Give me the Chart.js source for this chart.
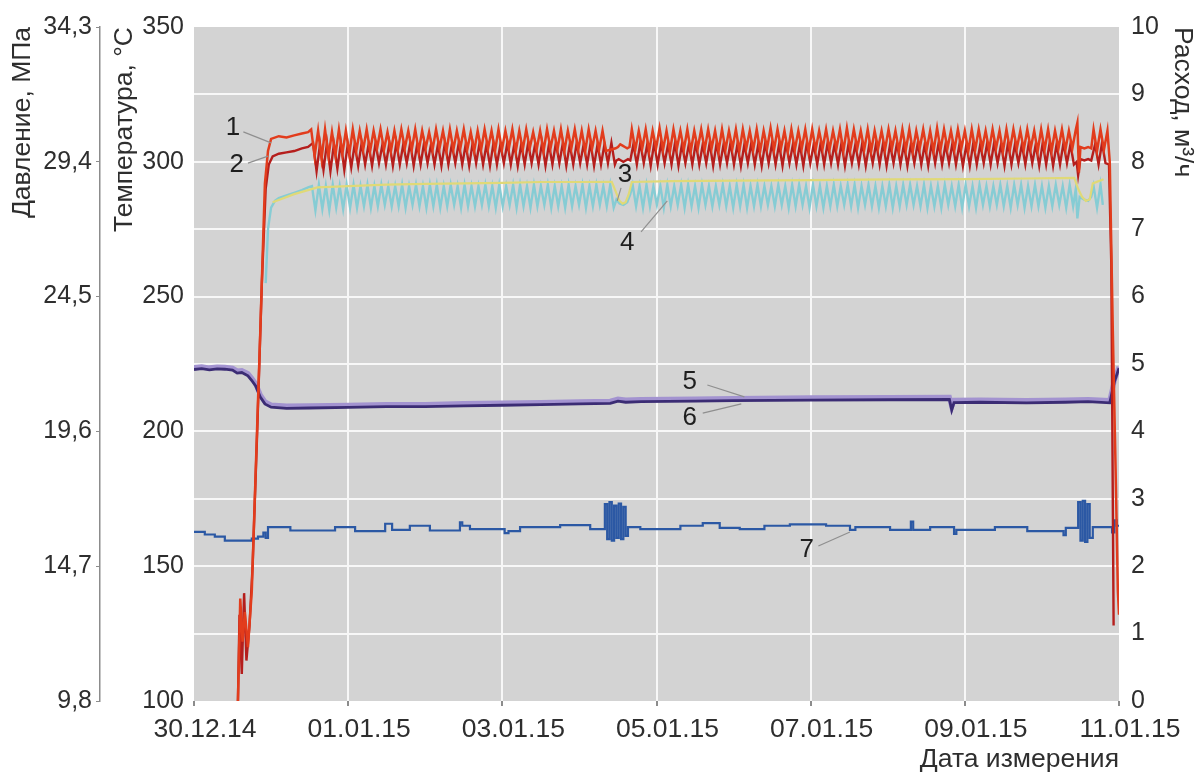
<!DOCTYPE html>
<html lang="ru">
<head>
<meta charset="utf-8">
<title>Температура, давление и расход</title>
<script src="https://cdn.jsdelivr.net/npm/chart.js@4.4.1/dist/chart.umd.min.js"></script>
<style>
  html, body { margin: 0; padding: 0; background: #fff; }
  #wrap { width: 1201px; height: 776px; position: relative; }
</style>
</head>
<body>
<div id="wrap"><canvas id="chart"></canvas></div>
<script>
// ===== Axis labels =====
const DATE_TICKS = [0, 2, 4, 6, 8, 10, 12];           // days since 30.12.14
const DATE_LABELS = ['30.12.14', '01.01.15', '03.01.15', '05.01.15', '07.01.15', '09.01.15', '11.01.15'];
const PRESSURE_TICKS = [9.8, 14.7, 19.6, 24.5, 29.4, 34.3];

// ===== Series 1 (temperature, upper red) =====
const OSC_STEP = 0.045; // sampling of the cycling sections, days
const T1_RAMP_DAYS = [0.57, 0.60, 0.63, 0.66, 0.70, 0.75, 0.80, 0.86, 0.92, 0.96, 1.00, 1.10, 1.20, 1.30, 1.40, 1.48];
const T1_RAMP = [100, 138, 122, 133, 120, 141, 185, 237, 292, 304, 308.5, 309.5, 309, 309.8, 310.5, 311];
const T1_OSC_A = [
  312, 302, 311.5, 301, 312, 302, 311, 302.5, 312, 303, 311.5, 303,
  312, 304, 311.5, 304.5, 312, 304, 311.5, 305, 312, 304.5, 311, 304,
  311.5, 304.5, 312, 305, 311.5, 304.5, 312, 304, 311.5, 305, 311, 304.5,
  312, 305, 311.5, 304, 312, 304.5, 311.5, 305, 312, 304.5, 311, 304,
  311.5, 304.5, 312, 305, 311.5, 304, 312, 304.5, 311.5, 305, 312, 304,
  311.5, 304.5, 312, 305, 311, 304.5, 311.5, 304, 312, 305, 311.5, 304.5,
  312, 304, 311.5, 305, 312, 304.5, 311.5, 304, 312, 305, 311.5, 304.5,
  311.5, 304
];
const T1_GAP_DAYS = [5.47, 5.50, 5.53, 5.56, 5.59, 5.62, 5.65];
const T1_GAP = [305, 305.5, 306.5, 306, 305.5, 305, 305.5];
const T1_OSC_B = [
  312, 304.5, 311.5, 305, 312, 304, 311.5, 305,
  312.5, 304.5, 311.5, 304, 312, 305, 311.5, 304.5,
  312, 304, 311.5, 305, 312, 304.5, 312, 305,
  311.5, 304, 312, 304.5, 311.5, 305, 312, 304,
  312, 305, 311.5, 304.5, 312, 304, 311.5, 305,
  312.5, 304.5, 312, 305, 311.5, 304, 312, 304.5,
  311.5, 305, 312, 304, 312, 304.5, 311.5, 305,
  312, 304.5, 311.5, 305, 312, 304, 312.5, 304.5,
  312, 305, 311.5, 304.5, 312, 304, 311.5, 305,
  311.5, 304.5, 312, 305, 311.5, 304, 312, 304.5,
  312, 304, 311.5, 305, 312, 304.5, 311.5, 304,
  312.5, 304.5, 312, 305, 311.5, 304.5, 312, 305,
  311.5, 304, 312, 304.5, 312, 305, 311.5, 304.5,
  312, 305, 311.5, 304, 312, 304.5, 312, 305,
  311.5, 304.5, 312, 305, 311.5, 304, 312, 304.5,
  312, 304, 311.5, 305, 312, 304.5, 311.5, 305
];
const T1_END_DAYS = [11.44, 11.46, 11.48, 11.50, 11.55, 11.60, 11.64, 11.67, 11.715, 11.76, 11.805, 11.85, 11.88, 11.92, 11.96, 11.985, 12.0];
const T1_END = [312, 314.5, 296, 305.5, 305, 305.5, 305, 312, 304, 312, 304.5, 311.5, 300, 237, 180, 141, 132];

// ===== Series 2 (temperature, lower red) =====
const T2_RAMP_DAYS = [0.57, 0.59, 0.62, 0.65, 0.68, 0.72, 0.76, 0.82, 0.88, 0.93, 0.97, 1.02, 1.10, 1.20, 1.30, 1.40, 1.48];
const T2_RAMP = [100, 132, 110, 140, 115, 128, 150, 200, 255, 290, 299, 302, 303, 303.5, 304, 305, 305.5];
const T2_OSC_A = [
  307, 296.5, 306.5, 297, 307, 296.5, 306.5, 297.5, 307, 297, 306.5, 298,
  306.5, 298.5, 307, 299, 306.5, 298.5, 307, 299.5, 306.5, 299, 307, 298.5,
  307, 299, 306.5, 299.5, 307, 298.5, 306.5, 299, 307, 299.5, 306.5, 299,
  306.5, 298.5, 307, 299, 306.5, 299.5, 307, 299, 306.5, 298.5, 307, 299.5,
  307, 299, 306.5, 298.5, 307, 299, 306.5, 299.5, 307, 299, 306.5, 298.5,
  306.5, 299, 307, 299.5, 306.5, 299, 307, 298.5, 306.5, 299, 307, 299.5,
  307, 298.5, 306.5, 299, 307, 299.5, 306.5, 299, 307, 298.5, 306.5, 299,
  306.5, 299.5, 307, 299
];
const T2_GAP_DAYS = [5.48, 5.51, 5.54, 5.57, 5.60, 5.63, 5.66];
const T2_GAP = [300.5, 301, 300.5, 300, 300.5, 301, 300.5];
const T2_OSC_B = [
  306.5, 299, 307, 299.5, 306.5, 298.5, 307, 299,
  307, 299.5, 306.5, 299, 307, 298.5, 306.5, 299.5,
  306.5, 299, 307, 299, 306.5, 299.5, 307, 298.5,
  307, 299, 306.5, 299.5, 307, 299, 306.5, 298.5,
  306.5, 299.5, 307, 299, 306.5, 298.5, 307, 299.5,
  307, 299, 306.5, 298.5, 307, 299.5, 306.5, 299,
  306.5, 298.5, 307, 299.5, 306.5, 299, 307, 299,
  307, 299.5, 306.5, 299, 307, 298.5, 306.5, 299.5,
  306.5, 299, 307, 298.5, 306.5, 299.5, 307, 299,
  307, 298.5, 306.5, 299.5, 307, 299, 306.5, 298.5,
  306.5, 299.5, 307, 299, 306.5, 298.5, 307, 299.5,
  307, 299, 306.5, 299.5, 307, 299, 306.5, 298.5,
  306.5, 298.5, 307, 299, 306.5, 299.5, 307, 299,
  307, 299.5, 306.5, 298.5, 307, 299, 306.5, 299.5,
  306.5, 299, 307, 299.5, 306.5, 298.5, 307, 299,
  307, 298.5, 306.5, 299, 307, 299.5, 306.5, 299
];
const T2_END_DAYS = [11.45, 11.47, 11.50, 11.55, 11.60, 11.64, 11.69, 11.735, 11.78, 11.825, 11.87, 11.90, 11.93];
const T2_END = [300, 295, 301, 300.5, 301, 300.5, 306.5, 299, 307, 299.5, 299, 262, 128];

// ===== Series 3 (temperature, yellow) =====
const T3_DAYS = [1.02, 1.3, 1.6, 2.0, 2.5, 3.0, 3.5, 4.0, 4.5, 5.0, 5.42, 5.47, 5.52, 5.56, 5.6, 5.64, 5.68,
  6.2, 7.0, 8.0, 9.0, 10.0, 10.8, 11.42, 11.47, 11.52, 11.57, 11.62, 11.66, 11.8];
const T3 = [285, 288, 290.5, 291, 291.5, 291.8, 292, 292.2, 292.5, 292.5, 292.6, 289, 285.5, 284.5, 285, 288, 292.5,
  292.8, 293, 293.2, 293.5, 293.6, 293.8, 294, 290, 287, 285.5, 286, 292, 293.5];

// ===== Series 4 (temperature, cyan) =====
const T4_RAMP_DAYS = [0.93, 0.96, 1.00, 1.05, 1.10, 1.20, 1.30, 1.40, 1.48];
const T4_RAMP = [255, 275, 283, 285.5, 286.5, 287.5, 288.5, 289.5, 290.5];
const T4_OSC_A = [
  291, 282, 291.5, 282.5, 291, 282, 291.5, 283, 291, 282.5, 291.5, 283,
  291.5, 283, 291, 283.5, 291.5, 283, 291, 283.5, 291.5, 284, 291, 283.5,
  291, 283.5, 291.5, 283, 291, 284, 291.5, 283.5, 291, 283, 291.5, 283.5,
  291.5, 283, 291, 283.5, 291.5, 284, 291, 283, 291.5, 283.5, 291, 283.5,
  291, 284, 291.5, 283.5, 291, 283, 291.5, 283.5, 291, 284, 291.5, 283,
  291.5, 283.5, 291, 283, 291.5, 283.5, 291, 284, 291.5, 283, 291, 283.5,
  291, 283, 291.5, 283.5, 291, 284, 291.5, 283, 291, 283.5, 291.5, 284,
  291, 283.5, 291.5, 283
];
const T4_GAP_DAYS = [5.48, 5.52, 5.57, 5.62, 5.66];
const T4_GAP = [286, 284.5, 284, 285, 288];
const T4_OSC_B = [
  291.5, 283.5, 291, 283, 291.5, 283.5, 291, 284,
  291, 283, 291.5, 283.5, 291, 284, 291.5, 283,
  291.5, 283.5, 291, 283, 291.5, 284, 291, 283.5,
  291, 284, 291.5, 283.5, 291, 283, 291.5, 283.5,
  291.5, 283, 291, 283.5, 291.5, 283.5, 291, 284,
  291, 283.5, 291.5, 284, 291, 283, 291.5, 283.5,
  291.5, 284, 291, 283, 291.5, 283.5, 291, 283,
  291, 283.5, 291.5, 283.5, 291, 284, 291.5, 283.5,
  291.5, 283, 291, 284, 291.5, 283.5, 291, 283,
  291, 283.5, 291.5, 283, 291, 283.5, 291.5, 284,
  291.5, 284, 291, 283.5, 291.5, 283, 291, 283.5,
  291, 283, 291.5, 284, 291, 283.5, 291.5, 283,
  291.5, 283.5, 291, 283, 291.5, 284, 291, 283.5,
  291, 284, 291.5, 283.5, 291, 283, 291.5, 284,
  291.5, 283, 291, 283.5, 291.5, 283.5, 291, 283,
  291, 283.5, 291.5, 284, 291, 283, 291.5, 283.5
];
const T4_END_DAYS = [11.44, 11.46, 11.49, 11.55, 11.60, 11.64, 11.67, 11.715, 11.76, 11.79];
const T4_END = [290, 279, 287, 286, 285.5, 287, 291, 283, 291.5, 284];

// ===== Series 5, 6 (pressure, MPa) =====
const P_DAYS = [0, 0.1, 0.2, 0.3, 0.4, 0.5, 0.56, 0.62, 0.7, 0.75, 0.8, 0.86, 0.92, 1.0, 1.2, 1.5, 2.0, 2.5, 3.0, 3.5,
  4.0, 4.5, 5.0, 5.4, 5.5, 5.6, 5.8, 6.5, 7.0, 8.0, 9.0, 9.8, 9.83, 9.86, 10.2, 10.8, 11.3, 11.6, 11.88, 11.94, 12.0];
const P5 = [21.92, 21.95, 21.91, 21.94, 21.93, 21.9, 21.8, 21.81, 21.7, 21.53, 21.33, 20.93, 20.68, 20.56, 20.52, 20.53, 20.55, 20.58, 20.58, 20.61,
  20.63, 20.65, 20.68, 20.7, 20.78, 20.74, 20.76, 20.78, 20.8, 20.82, 20.83, 20.84, 20.5, 20.73, 20.74, 20.72, 20.74, 20.76, 20.72, 21.45, 21.95];
const P6 = [21.85, 21.88, 21.84, 21.87, 21.86, 21.83, 21.72, 21.74, 21.62, 21.45, 21.25, 20.85, 20.6, 20.48, 20.44, 20.45, 20.47, 20.5, 20.5, 20.53,
  20.55, 20.57, 20.6, 20.62, 20.7, 20.66, 20.68, 20.7, 20.72, 20.74, 20.75, 20.76, 20.38, 20.65, 20.66, 20.64, 20.66, 20.68, 20.64, 21.4, 21.9];

// ===== Series 7 (flow, m3/h, stepped) =====
const F7_DAYS = [0, 0.14, 0.27, 0.40, 0.75, 0.83, 0.90, 0.93, 0.96, 1.25, 1.83, 2.09, 2.48, 2.57, 2.80, 3.06, 3.45, 3.48, 3.58, 4.03,
  4.08, 4.23, 4.75, 5.14, 5.33, 5.36, 5.39, 5.42, 5.45, 5.48, 5.51, 5.54, 5.57, 5.60, 5.63, 5.79, 6.31, 6.60, 6.82, 7.08,
  7.40, 7.73, 8.20, 8.51, 8.58, 9.03, 9.30, 9.33, 9.55, 9.86, 9.89, 10.39, 10.81, 11.28, 11.31, 11.47, 11.50, 11.53, 11.56, 11.59,
  11.62, 11.66, 11.91, 11.94, 11.97, 12.0];
const F7 = [2.51, 2.47, 2.44, 2.38, 2.41, 2.44, 2.50, 2.42, 2.58, 2.53, 2.58, 2.52, 2.63, 2.54, 2.60, 2.53, 2.65, 2.60, 2.55, 2.49,
  2.52, 2.58, 2.61, 2.55, 2.92, 2.40, 2.95, 2.38, 2.90, 2.42, 2.93, 2.40, 2.88, 2.45, 2.58, 2.55, 2.60, 2.64, 2.57, 2.55,
  2.60, 2.62, 2.60, 2.54, 2.58, 2.54, 2.66, 2.54, 2.58, 2.48, 2.54, 2.58, 2.52, 2.46, 2.57, 2.95, 2.38, 2.97, 2.36, 2.92,
  2.42, 2.58, 2.50, 2.68, 2.60, 2.60];

// ===== Helpers =====
const pts = (days, vals) => days.map((d, i) => ({ x: d, y: vals[i] }));
const run = (start, vals) => vals.map((v, i) => ({ x: +(start + i * OSC_STEP).toFixed(4), y: v }));

const FONT = "'Liberation Sans', Arial, Helvetica, sans-serif";
const TEXT = '#2e2e2e';
const AXIS_GRAY = '#8c8c8c';

// callouts (series numbers with leader lines), in x-days / temperature units
const CALLOUTS = [
  { text: '1', at: [0.506, 312.5], from: [0.64, 311.1], to: [1.0, 307.0] },
  { text: '2', at: [0.555, 298.8], from: [0.70, 299.5], to: [0.96, 302.1] },
  { text: '3', at: [5.59, 295.1], from: [5.54, 290.3], to: [5.49, 285.5] },
  { text: '4', at: [5.62, 269.9], from: [5.80, 274.0], to: [6.14, 285.5] },
  { text: '5', at: [6.43, 218.3], from: [6.66, 217.2], to: [7.14, 212.8] },
  { text: '6', at: [6.43, 205.0], from: [6.60, 206.8], to: [7.10, 210.2] },
  { text: '7', at: [7.95, 156.0], from: [8.10, 157.5], to: [8.51, 162.7] }
];

const plotBackground = {
  id: 'plotBackground',
  beforeDraw(chart) {
    const { ctx, chartArea: a } = chart;
    ctx.save();
    ctx.fillStyle = '#d3d3d3';
    ctx.fillRect(a.left, a.top, a.right - a.left, a.bottom - a.top);
    ctx.restore();
  }
};

const callouts = {
  id: 'callouts',
  afterDatasetsDraw(chart) {
    const { ctx } = chart;
    const sx = chart.scales.x, sy = chart.scales.yT;
    ctx.save();
    ctx.strokeStyle = '#8f8f8f';
    ctx.lineWidth = 1.2;
    ctx.fillStyle = '#1e1e1e';
    ctx.font = `26px ${FONT}`;
    ctx.textAlign = 'center';
    ctx.textBaseline = 'middle';
    CALLOUTS.forEach(c => {
      ctx.beginPath();
      ctx.moveTo(sx.getPixelForValue(c.from[0]), sy.getPixelForValue(c.from[1]));
      ctx.lineTo(sx.getPixelForValue(c.to[0]), sy.getPixelForValue(c.to[1]));
      ctx.stroke();
      ctx.fillText(c.text, sx.getPixelForValue(c.at[0]), sy.getPixelForValue(c.at[1]));
    });
    ctx.restore();
  }
};

const line = (data, color, width, axis, extra = {}) => Object.assign({
  data, yAxisID: axis, borderColor: color, borderWidth: width,
  pointRadius: 0, fill: false, tension: 0
}, extra);

const datasets = [
  line([...pts(T1_RAMP_DAYS, T1_RAMP), ...run(1.52, T1_OSC_A), ...pts(T1_GAP_DAYS, T1_GAP),
        ...run(5.68, T1_OSC_B), ...pts(T1_END_DAYS, T1_END)], '#e23c1c', 2.5, 'yT'),
  line([...pts(T2_RAMP_DAYS, T2_RAMP), ...run(1.545, T2_OSC_A), ...pts(T2_GAP_DAYS, T2_GAP),
        ...run(5.70, T2_OSC_B), ...pts(T2_END_DAYS, T2_END)], '#b51e1c', 2.4, 'yT'),
  line(pts(P_DAYS, P6), '#3b2c74', 2.8, 'yP'),
  line(pts(P_DAYS, P5), '#a393d0', 5, 'yP'),
  line(pts(F7_DAYS, F7), '#2b58a4', 2.2, 'yF', { stepped: true }),
  line(pts(T3_DAYS, T3), '#e0d977', 2.2, 'yT'),
  line([...pts(T4_RAMP_DAYS, T4_RAMP), ...run(1.53, T4_OSC_A), ...pts(T4_GAP_DAYS, T4_GAP),
        ...run(5.69, T4_OSC_B), ...pts(T4_END_DAYS, T4_END)], '#86ccd4', 2.4, 'yT')
];

const titleFont = { family: FONT, size: 26.5 };
const tickFont = { family: FONT, size: 25 };
const dateFont = { family: FONT, size: 26.5 };

new Chart(document.getElementById('chart'), {
  type: 'line',
  data: { datasets },
  plugins: [plotBackground, callouts],
  options: {
    responsive: true,
    maintainAspectRatio: false,
    animation: false,
    layout: { padding: { top: 27, left: 0, right: 0, bottom: 0 } },
    plugins: { legend: { display: false }, tooltip: { enabled: false } },
    scales: {
      x: {
        type: 'linear', min: 0, max: 12,
        afterBuildTicks: s => { s.ticks = DATE_TICKS.map(v => ({ value: v })); },
        afterFit: s => { s.height = 75; },
        ticks: {
          autoSkip: false, maxRotation: 0, padding: 8, labelOffset: 11, color: TEXT, font: dateFont,
          callback: (v, i) => DATE_LABELS[i]
        },
        grid: {
          color: c => (c.tick && (c.tick.value === 0 || c.tick.value === 12)) ? 'rgba(0,0,0,0)' : '#f7f7f7',
          lineWidth: 2, tickColor: AXIS_GRAY, tickLength: 5
        },
        border: { display: false },
        title: {
          display: true, text: 'Дата измерения', align: 'end', color: TEXT, font: titleFont,
          padding: { top: 0, bottom: 0 }
        }
      },
      yT: {
        type: 'linear', position: 'left', weight: 0, min: 100, max: 350,
        afterFit: s => { s.width = 94; },
        ticks: { stepSize: 50, padding: 2, color: TEXT, font: tickFont },
        grid: { display: false },
        border: { display: false },
        title: {
          display: true, text: 'Температура, °C', align: 'end', color: TEXT, font: titleFont,
          padding: { top: 9, bottom: 0 }
        }
      },
      yP: {
        type: 'linear', position: 'left', weight: 1, min: 9.8, max: 34.3,
        afterBuildTicks: s => { s.ticks = PRESSURE_TICKS.map(v => ({ value: v })); },
        afterFit: s => { s.width = 100; },
        ticks: {
          padding: 4, color: TEXT, font: tickFont,
          callback: v => v.toFixed(1).replace('.', ',')
        },
        grid: { drawOnChartArea: false, drawTicks: true, tickLength: 4, tickColor: AXIS_GRAY, color: AXIS_GRAY },
        border: { display: true, color: AXIS_GRAY, width: 1.5 },
        title: {
          display: true, text: 'Давление, МПа', align: 'end', color: TEXT, font: titleFont,
          padding: { top: 7, bottom: 0 }
        }
      },
      yF: {
        type: 'linear', position: 'right', min: 0, max: 10,
        afterFit: s => { s.width = 82; },
        ticks: { stepSize: 1, padding: 12, color: TEXT, font: tickFont },
        grid: {
          color: c => (c.tick && (c.tick.value === 0 || c.tick.value === 10)) ? 'rgba(0,0,0,0)' : '#f7f7f7',
          lineWidth: 2, drawTicks: false
        },
        border: { display: false },
        title: {
          display: true, text: 'Расход, м³/ч', align: 'end', color: TEXT, font: titleFont,
          padding: { top: 3, bottom: 0 }
        }
      }
    }
  }
});
</script>
</body>
</html>
